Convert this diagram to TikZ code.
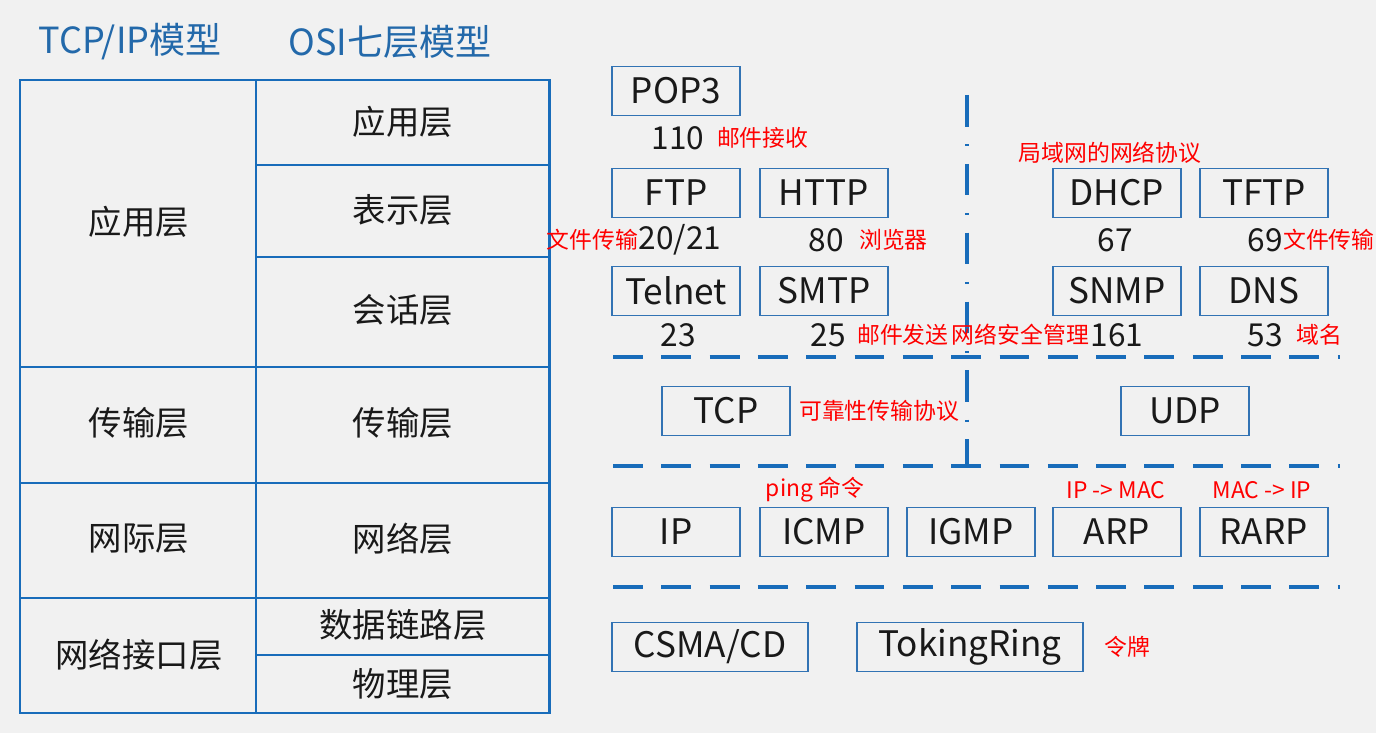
\documentclass[tikz,border=0pt]{standalone}
\usepackage{fontspec}
\setmainfont{Noto Sans CJK SC}
\usetikzlibrary{positioning}

\begin{document}
\begin{tikzpicture}[
    x=0.02cm, y=-0.02cm,
    node distance=0.2cm and 0.2cm,
    proto/.style={draw=boxblue, line width=1.1pt, fill=bg, minimum height=0.98cm, minimum width=2.56cm, inner sep=0pt, text=ink, font=\fontsize{20}{22}\selectfont},
    port/.style={inner sep=0pt, text=ink, font=\fontsize{18}{20}\selectfont},
    note/.style={inner sep=0pt, text=red, font=\fontsize{13}{15}\selectfont},
    cell/.style={inner sep=0pt, text=ink, font=\fontsize{19}{21}\selectfont},
    title/.style={inner sep=0pt, text=titleblue, font=\fontsize{20.5}{22}\selectfont},
    sep/.style={draw=lineblue, line width=2.8pt, dash pattern=on 17pt off 10.5pt},
    vsep/.style={draw=lineblue, line width=2.2pt, dash pattern=on 18pt off 10pt on 1.2pt off 10pt}
]

% Colors
\definecolor{bg}{RGB}{241, 241, 241} % page
\definecolor{ink}{RGB}{25, 25, 25} % black text
\definecolor{lineblue}{RGB}{24, 108, 186} % table and separators
\definecolor{boxblue}{RGB}{50, 115, 180} % protocol boxes
\definecolor{titleblue}{RGB}{35, 105, 170} % titles

\useasboundingbox[fill=bg] (0,0) rectangle (1376,733);

% Left table
\node (t_tcpip) [title] at (130,42) {TCP/IP模型};
\node (t_osi) [title] at (390,42) {OSI七层模型};

\draw[lineblue, line width=1.7pt] (20,80) rectangle (549,713);
\draw[lineblue, line width=1.7pt] (256,80) -- (256,713);
\foreach \y in {367, 483, 598}
    \draw[lineblue, line width=1.7pt] (20,\y) -- (549,\y);
\foreach \y in {165, 257, 655}
    \draw[lineblue, line width=1.7pt] (256,\y) -- (549,\y);

\node (l_app) [cell] at (139,222) {应用层};
\node (l_trans) [cell] at (139,423) {传输层};
\node (l_inter) [cell] at (139,539) {网际层};
\node (l_iface) [cell] at (139,655) {网络接口层};

\node (r_app) [cell] at (403,122) {应用层};
\node (r_pres) [cell] at (403,210) {表示层};
\node (r_sess) [cell] at (403,310) {会话层};
\node (r_trans) [cell] at (403,423) {传输层};
\node (r_net) [cell] at (403,539) {网络层};
\node (r_link) [cell] at (403,625) {数据链路层};
\node (r_phys) [cell] at (403,684) {物理层};

% Separators
\coordinate (s1_l) at (613,357);
\coordinate (s1_r) at (1340,357);
\coordinate (s2_l) at (613,466);
\coordinate (s2_r) at (1340,466);
\coordinate (s3_l) at (613,587);
\coordinate (s3_r) at (1340,587);
\coordinate (v_top) at (967,95);
\coordinate (v_bot) at (967,466);

\draw[sep] (s1_l) -- (s1_r);
\draw[sep] (s2_l) -- (s2_r);
\draw[sep] (s3_l) -- (s3_r);
\draw[vsep] (v_top) -- (v_bot);

% Application protocols
\node (pop3) [proto] at (676,91) {POP3};
\node (ftp) [proto] at (676,193) {FTP};
\node (http) [proto, right=0.36cm of ftp] {HTTP};
\node (telnet) [proto] at (676,291) {Telnet};
\node (smtp) [proto, right=0.36cm of telnet] {SMTP};
\node (dhcp) [proto] at (1117,193) {DHCP};
\node (tftp) [proto, right=0.34cm of dhcp] {TFTP};
\node (snmp) [proto] at (1117,291) {SNMP};
\node (dns) [proto, right=0.34cm of snmp] {DNS};

\node (p_pop3) [port] at (678,138) {110};
\node (p_ftp) [port] at (680,240) {20/21};
\node (p_http) [port] at (826,240) {80};
\node (p_telnet) [port] at (678,335) {23};
\node (p_smtp) [port] at (828,335) {25};
\node (p_dhcp) [port] at (1115,240) {67};
\node (p_tftp) [port] at (1265,240) {69};
\node (p_snmp) [port] at (1117,335) {161};
\node (p_dns) [port] at (1265,335) {53};

\node (n_pop3) [note, right=0.24cm of p_pop3] {邮件接收};
\node (n_ftp) [note, left=0cm of p_ftp] {文件传输};
\node (n_http) [note, right=0.3cm of p_http] {浏览器};
\node (n_smtp) [note, right=0.22cm of p_smtp] {邮件发送};
\node (n_snmp) [note, left=0.02cm of p_snmp] {网络安全管理};
\node (n_dhcp) [note] at (1110,153) {局域网的网络协议};
\node (n_tftp) [note, right=0cm of p_tftp] {文件传输};
\node (n_dns) [note, right=0.26cm of p_dns] {域名};

% Transport protocols
\node (tcp) [proto] at (726,411) {TCP};
\node (udp) [proto] at (1185,411) {UDP};
\node (n_tcp) [note, right=0.16cm of tcp] {可靠性传输协议};

% Internet protocols
\node (ip) [proto] at (676,532) {IP};
\node (icmp) [proto, right=0.36cm of ip] {ICMP};
\node (igmp) [proto, right=0.34cm of icmp] {IGMP};
\node (arp) [proto, right=0.32cm of igmp] {ARP};
\node (rarp) [proto, right=0.34cm of arp] {RARP};

\node (n_icmp) [note] at (815,490) {ping 命令};
\node (n_arp) [note] at (1116,490) {IP -> MAC};
\node (n_rarp) [note] at (1262,490) {MAC -> IP};

% Link protocols
\node (csma) [proto, minimum width=3.92cm] at (710,647) {CSMA/CD};
\node (token) [proto, minimum width=4.52cm] at (970,647) {TokingRing};
\node (n_token) [note, right=0.4cm of token] {令牌};

\end{tikzpicture}
\end{document}
